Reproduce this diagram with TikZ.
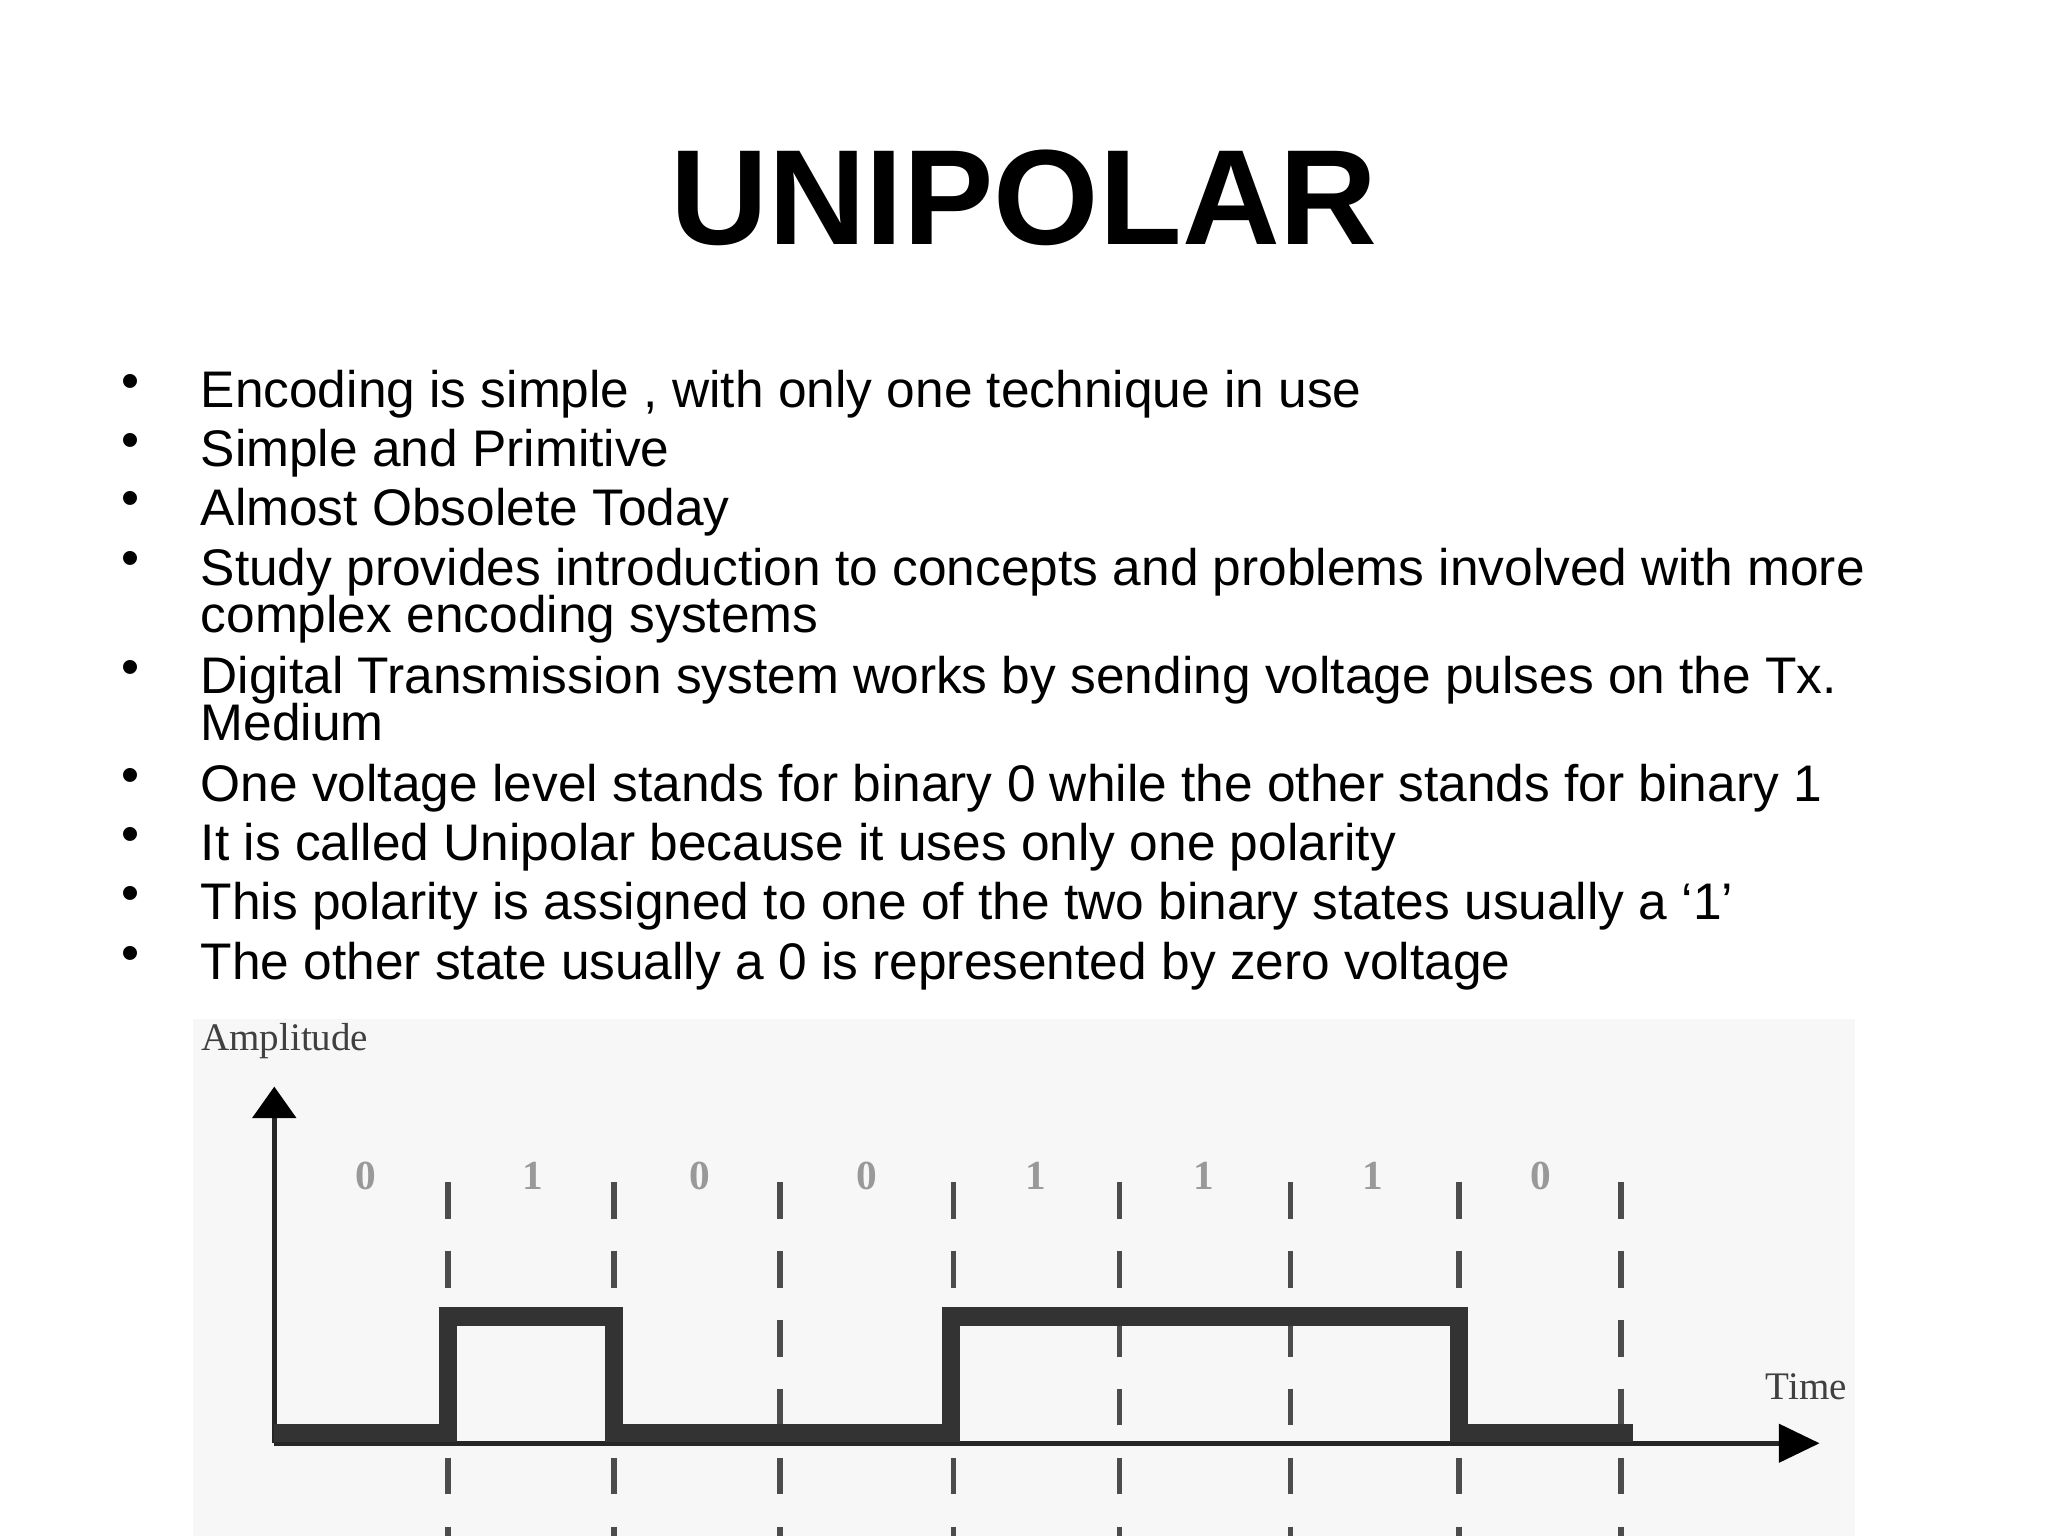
\documentclass[tikz,border=0pt]{standalone}
\usepackage{fontspec}
\setmainfont{Liberation Sans}
\newfontfamily\serifx{Liberation Serif}
\begin{document}
\begin{tikzpicture}[x=0.01cm,y=-0.01cm,
  bul/.style={anchor=base west,font=\fontsize{11.2pt}{13pt}\selectfont,inner sep=0},
  dot/.style={anchor=base,font=\fontsize{11.2pt}{13pt}\selectfont,inner sep=0},
  bit/.style={font=\serifx\fontsize{9pt}{10pt}\selectfont\bfseries,text=black!40},
  dl/.style={draw=black!70,dash pattern=on 8pt off 7pt,line width=1.2pt},
  sig/.style={draw=black!80,line width=4pt}]
\useasboundingbox (0,0) rectangle (1568,1176);
\node[font=\fontsize{29.5pt}{32pt}\selectfont\bfseries,anchor=base] (title) at (784,187) {UNIPOLAR};
\foreach \y/\t in {312/{Encoding is simple , with only one technique in use},
  357/{Simple and Primitive},402/{Almost Obsolete Today},
  448/{Study provides introduction to concepts and problems involved with more},
  484/{complex encoding systems},
  531/{Digital Transmission system works by sending voltage pulses on the Tx.},
  567/{Medium},
  614/{One voltage level stands for binary 0 while the other stands for binary 1},
  659/{It is called Unipolar because it uses only one polarity},
  704/{This polarity is assigned to one of the two binary states usually a ‘1’},
  750/{The other state usually a 0 is represented by zero voltage}}
  \node[bul] at (153,\y) {\t};
\foreach \y in {305,350,395,441,524,607,652,697,743}
  \node[dot] at (100,\y) {•};
\fill[black!3] (148,780) rectangle (1420,1176);
\node[font=\serifx\fontsize{8.5pt}{10pt}\selectfont,text=black!75] (amp) at (218,797) {Amplitude};
\node[font=\serifx\fontsize{8.5pt}{10pt}\selectfont,text=black!75] (time) at (1383,1062) {Time};
\foreach \x in {343,470,597,730,857,988,1117,1241}
  \draw[dl] (\x,905) -- (\x,1176);
\foreach \x/\b in {280/0,408/1,536/0,664/0,793/1,922/1,1051/1,1180/0}
  \node[bit] at (\x,900) {\b};
\coordinate (o) at (210,1105);
\coordinate (ytop) at (210,832);
\coordinate (xend) at (1393,1105);
\draw[black!85,line width=1pt] (o) -- (210,852);
\fill[black] (ytop) -- (193,856) -- (227,856) -- cycle;
\draw[black!85,line width=1pt] (o) -- (1365,1105);
\fill[black] (xend) -- (1362,1090) -- (1362,1120) -- cycle;
\draw[sig] (210,1097) -- (343,1097) -- (343,1008) -- (470,1008) -- (470,1097) -- (728,1097) -- (728,1008) -- (1117,1008) -- (1117,1097) -- (1250,1097);
\end{tikzpicture}
\end{document}
